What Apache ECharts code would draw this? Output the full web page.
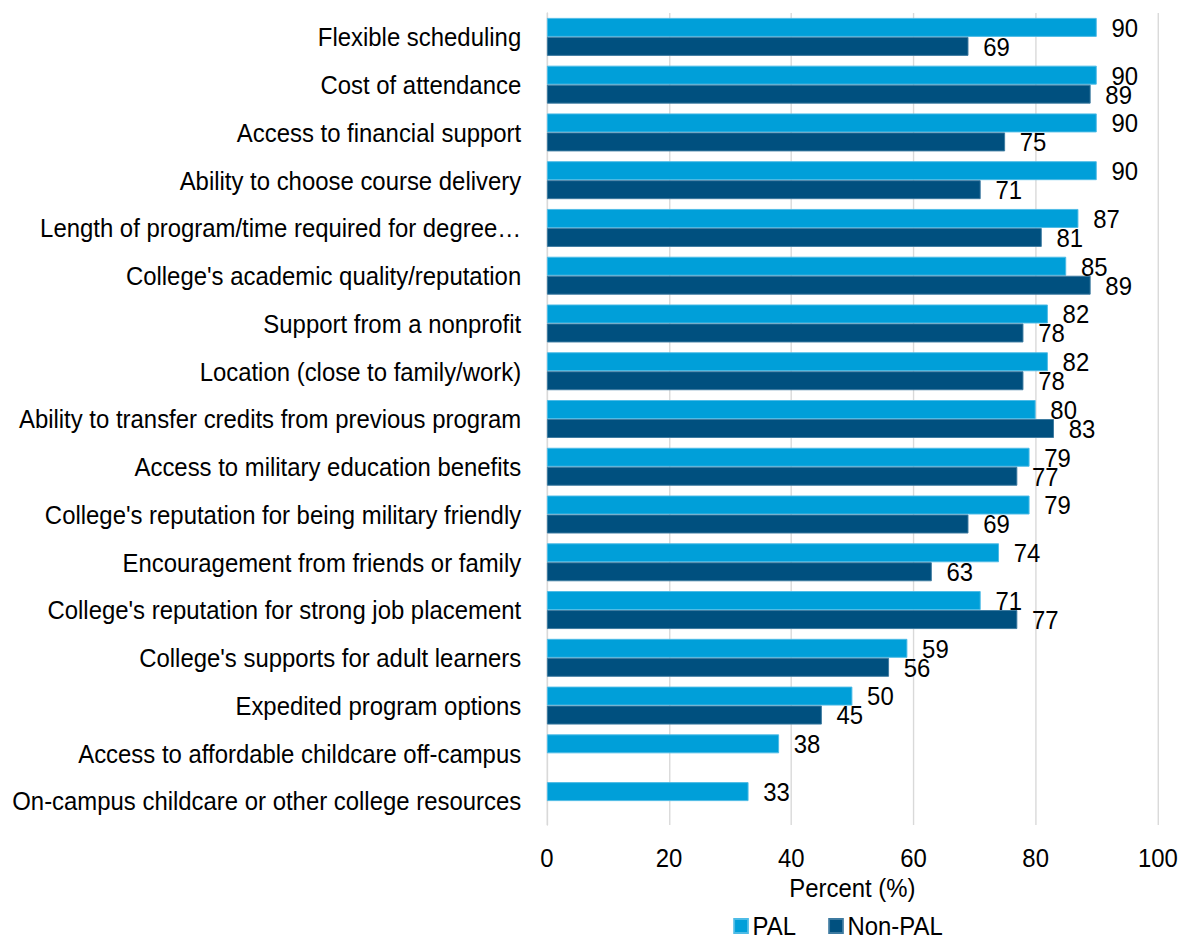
<!DOCTYPE html>
<html>
<head>
<meta charset="utf-8">
<script src="https://cdn.jsdelivr.net/npm/echarts@6/dist/echarts.min.js"></script>
<style>
  html, body { margin: 0; padding: 0; background: #ffffff; overflow: hidden; }
  #frame { width: 1185px; height: 942px; overflow: hidden; }
  /* drawn slightly wider, then condensed horizontally for a narrow-type look */
  #chart { width: 1288px; height: 942px; transform: scaleX(0.92); transform-origin: 0 0; }
</style>
</head>
<body>
<div id="frame"><div id="chart"></div></div>
<script>
// Reasons for choosing a college, PAL vs Non-PAL respondents (percent)
const categories = [
  'Flexible scheduling',
  'Cost of attendance',
  'Access to financial support',
  'Ability to choose course delivery',
  'Length of program/time required for degree\u2026',
  "College's academic quality/reputation",
  'Support from a nonprofit',
  'Location (close to family/work)',
  'Ability to transfer credits from previous program',
  'Access to military education benefits',
  "College's reputation for being military friendly",
  'Encouragement from friends or family',
  "College's reputation for strong job placement",
  "College's supports for adult learners",
  'Expedited program options',
  'Access to affordable childcare off-campus',
  'On-campus childcare or other college resources'
];
const palValues = [90, 90, 90, 90, 87, 85, 82, 82, 80, 79, 79, 74, 71, 59, 50, 38, 33];
const nonPalValues = [69, 89, 75, 71, 81, 89, 78, 78, 83, 77, 69, 63, 77, 56, 45, null, null];
const xTicks = [0, 20, 40, 60, 80, 100];

const FONT = '"Liberation Sans", Arial, Helvetica, sans-serif';
const FONT_SIZE = 26;
const PAL_COLOR = '#009fd9';
const NONPAL_COLOR = '#00507f';

const chart = echarts.init(document.getElementById('chart'), null, { renderer: 'svg' });

const labelStyle = {
  show: true,
  position: 'right',
  distance: 16,
  color: '#000000',
  fontFamily: FONT,
  fontSize: FONT_SIZE
};

chart.setOption({
  animation: false,
  backgroundColor: '#ffffff',
  textStyle: { fontFamily: FONT },
  grid: {
    left: 594.5, right: 29.5, top: 13, bottom: 117,
    containLabel: false,
    outerBoundsMode: 'none'
  },
  legend: {
    data: ['PAL', 'Non-PAL'],
    top: 913,
    left: 792,
    padding: [0, 5],
    itemWidth: 15,
    itemHeight: 14,
    itemGap: 35,
    icon: 'rect',
    textStyle: { fontFamily: FONT, fontSize: FONT_SIZE, color: '#000000' }
  },
  xAxis: {
    type: 'value',
    min: xTicks[0],
    max: xTicks[xTicks.length - 1],
    interval: 20,
    name: 'Percent (%)',
    nameLocation: 'middle',
    nameGap: 50,
    nameMoveOverlap: false,
    nameTextStyle: { fontFamily: FONT, fontSize: FONT_SIZE, color: '#000000' },
    axisLine: { show: false },
    axisTick: { show: false },
    axisLabel: { margin: 20, fontFamily: FONT, fontSize: FONT_SIZE, color: '#000000' },
    splitLine: { show: true, lineStyle: { color: '#d9d9d9', width: 1.5 } }
  },
  yAxis: {
    type: 'category',
    inverse: true,
    data: categories,
    axisLine: { show: true, lineStyle: { color: '#d9d9d9', width: 1.5 } },
    axisTick: { show: false },
    axisLabel: { margin: 28, fontFamily: FONT, fontSize: FONT_SIZE, color: '#000000' }
  },
  series: [
    {
      name: 'PAL',
      type: 'bar',
      data: palValues,
      barWidth: 19,
      barGap: '0%',
      barCategoryGap: '20%',
      itemStyle: { color: PAL_COLOR, borderColor: '#4dbbe6', borderWidth: 1 },
      label: labelStyle
    },
    {
      name: 'Non-PAL',
      type: 'bar',
      data: nonPalValues,
      barWidth: 19,
      barGap: '0%',
      itemStyle: { color: NONPAL_COLOR, borderColor: '#3d7aa0', borderWidth: 1 },
      label: labelStyle
    }
  ]
});
</script>
</body>
</html>
